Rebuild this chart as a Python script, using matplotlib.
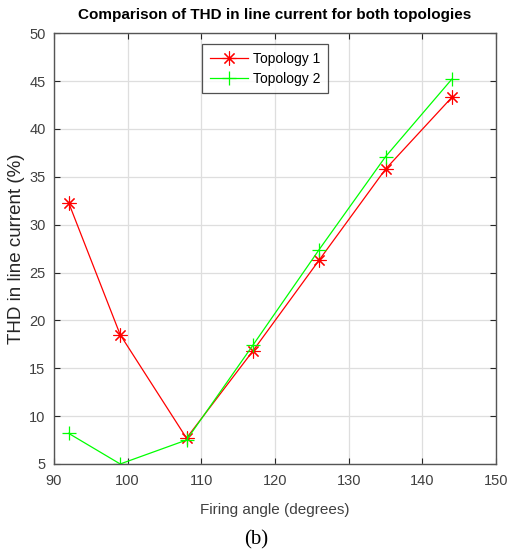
import matplotlib.pyplot as plt

# Data
firing_angle = [92, 99, 108, 117, 126, 135, 144]
thd_topology1 = [32.3, 18.5, 7.7, 16.8, 26.3, 35.8, 43.3]
thd_topology2 = [8.2, 5.0, 7.5, 17.4, 27.4, 37.1, 45.2]

x_ticks = [90, 100, 110, 120, 130, 140, 150]
y_ticks = [5, 10, 15, 20, 25, 30, 35, 40, 45, 50]

plt.rcParams['font.family'] = ['Liberation Sans', 'DejaVu Sans']

fig = plt.figure(figsize=(5.13, 5.53), dpi=100)
ax = fig.add_axes([0.105, 0.161, 0.862, 0.779])

# MATLAB-style asterisk (8 spokes) and plus markers
ax.plot(firing_angle, thd_topology1, color='red', marker=(8, 2, 0), markersize=10,
        markeredgewidth=0.8, linewidth=0.9, label='Topology 1')
ax.plot(firing_angle, thd_topology2, color='#00ff00', marker='+', markersize=10,
        markeredgewidth=0.9, linewidth=0.9, label='Topology 2')

ax.set_xlim(90, 150)
ax.set_ylim(5, 50)
ax.set_xticks(x_ticks)
ax.set_yticks(y_ticks)

ax.grid(True, color='#dedede', linewidth=0.9)
ax.set_axisbelow(True)
ax.tick_params(direction='in', top=True, right=True, length=4,
               labelsize=10.5, colors='#262626', labelcolor='#404040')
ax.tick_params(axis='x', pad=7)
ax.tick_params(axis='y', pad=6)
for s in ax.spines.values():
    s.set_color('#555555')
    s.set_linewidth(1.0)

ax.set_title('Comparison of THD in line current for both topologies',
             fontsize=11, fontweight='bold', pad=10)
ax.set_xlabel('Firing angle (degrees)', fontsize=11, color='#404040', labelpad=11)
ax.set_ylabel('THD in line current (%)', fontsize=13.5, color='#262626', labelpad=3)

leg = ax.legend(loc='upper left', bbox_to_anchor=(0.336, 0.974), fontsize=10,
                frameon=True, fancybox=False, edgecolor='#262626',
                handlelength=2.7, handletextpad=0.4, borderpad=0.55,
                labelspacing=0.4, borderaxespad=0)
leg.get_frame().set_linewidth(0.9)

fig.text(0.5, 0.0235, '(b)', ha='center', va='center', fontsize=15,
         family=['Liberation Serif', 'DejaVu Serif'])

plt.savefig('out.png', dpi=100)
plt.close()
